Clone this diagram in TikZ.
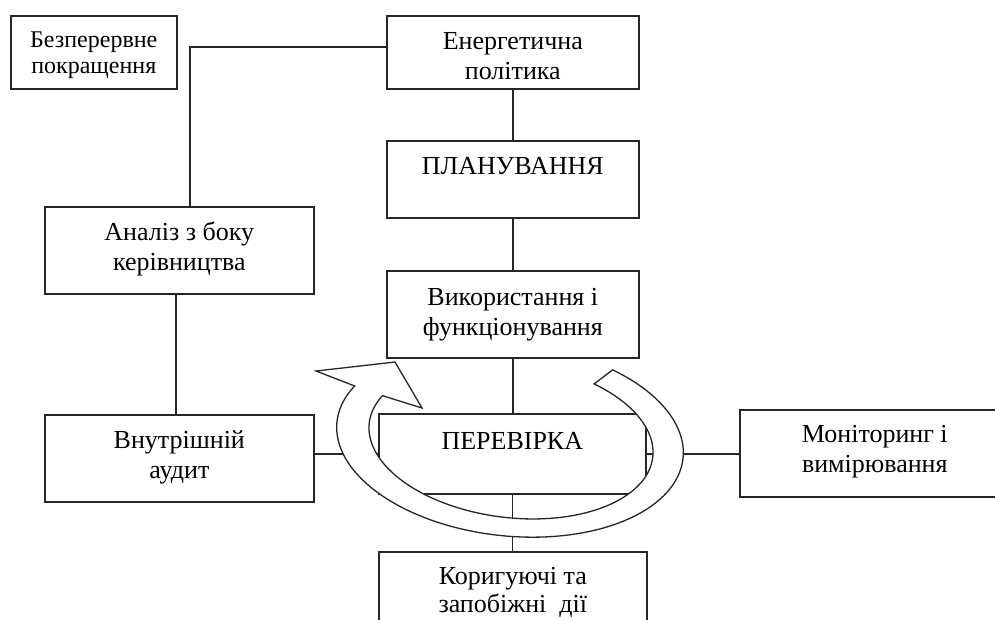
\documentclass[tikz,border=0pt]{standalone}
\usepackage{fontspec}
\setmainfont{Liberation Serif}
\newcommand\mytl[1]{\begin{tabular}[t]{@{}c@{}}#1\end{tabular}}
\begin{document}
\begin{tikzpicture}[x=1pt,y=-1pt,
  box/.style={draw=black!85, line width=1.6pt, inner sep=0pt, anchor=north west,
    text height=34pt, font=\fontsize{26}{30}\selectfont},
  conn/.style={draw=black!85, line width=1.5pt},
  cyc/.style={draw=black!85, line width=1.3pt, fill=white, line join=miter}]
\useasboundingbox (0,0) rectangle (995,619);
\clip (0,0) rectangle (995,619);
% boxes
\node[box, minimum width=166pt, text height=32pt, text depth=41pt, font=\fontsize{24}{26}\selectfont] (bz) at (10,15) {\mytl{Безперервне\\покращення}};
\node[box, minimum width=252pt, text depth=39pt] (en) at (386,15) {\mytl{Енергетична\\політика}};
\node[box, minimum width=252pt, text depth=43pt] (pl) at (386,140) {\mytl{ПЛАНУВАННЯ}};
\node[box, minimum width=269pt, text depth=53pt] (an) at (44,206) {\mytl{Аналіз з боку\\керівництва}};
\node[box, minimum width=252pt, text height=35pt, text depth=52pt] (vy) at (386,270) {\mytl{Використання і\\функціонування}};
\node[box, minimum width=269pt, text depth=53pt] (vn) at (44,414) {\mytl{Внутрішній\\аудит}};
\node[box, minimum width=267pt, text height=36pt, text depth=44pt] (pv) at (378,413) {\mytl{ПЕРЕВІРКА}};
\node[box, minimum width=270pt, text height=33pt, text depth=54pt] (mn) at (739,409) {\mytl{Моніторинг і\\вимірювання}};
\node[box, minimum width=268pt, text height=33pt, text depth=56pt, font=\fontsize{26}{28}\selectfont] (kr) at (378,551) {\mytl{Коригуючі та\\запобіжні\ \ дії}};
% connectors
\coordinate (k) at (190,47);
\draw[conn] (en.west |- k) -- (k) -- (k |- an.north);
\draw[conn] (en.south) -- (pl.north);
\draw[conn] (pl.south) -- (vy.north);
\draw[conn] (vy.south) -- (vy.south |- pv.north);
\draw[conn] (pv.south) -- (pv.south |- kr.north);
\draw[conn] ([xshift=-3.5pt]an.south) -- ([xshift=-3.5pt]an.south |- vn.north);
\draw[conn] (pv.west) -- (pv.west -| vn.east);
\draw[conn] (pv.east) -- (pv.east -| mn.west);
% circular arrow
\draw[cyc] plot[domain=-57:203, samples=100, variable=\t]
    ({510+174*cos(\t)*cos(6)-96*sin(\t)*sin(6)}, {440+174*cos(\t)*sin(6)+96*sin(\t)*cos(6)})
  -- (316,371) -- (395,362) -- (422,408)
  -- plot[domain=201.4:-58, samples=100, variable=\t]
    ({511+142.8*cos(\t)*cos(7)-77.6*sin(\t)*sin(7)}, {440+142.8*cos(\t)*sin(7)+77.6*sin(\t)*cos(7)})
  -- cycle;
\end{tikzpicture}
\end{document}
